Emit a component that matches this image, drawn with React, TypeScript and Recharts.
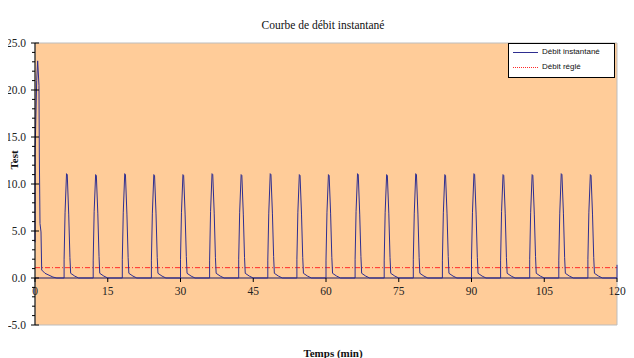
import React from 'react';
import { LineChart, Line, XAxis, YAxis, CartesianGrid, ReferenceLine, ReferenceArea } from 'recharts';

// temps (min) et débit
const timeMin = [
  0, 0.02, 0.35, 0.55, 0.82, 0.89, 1.03, 1.24, 1.38, 2.06, 3.7, 4.5,
  6, 6, 6.2, 6.5, 6.65, 6.95, 7.2, 7.35, 8.2, 9,
  12, 12, 12.2, 12.5, 12.65, 12.95, 13.2, 13.35, 14.2, 15,
  18, 18, 18.2, 18.5, 18.65, 18.95, 19.2, 19.35, 20.2, 21,
  24, 24, 24.2, 24.5, 24.65, 24.95, 25.2, 25.35, 26.2, 27,
  30, 30, 30.2, 30.5, 30.65, 30.95, 31.2, 31.35, 32.2, 33,
  36, 36, 36.2, 36.5, 36.65, 36.95, 37.2, 37.35, 38.2, 39,
  42, 42, 42.2, 42.5, 42.65, 42.95, 43.2, 43.35, 44.2, 45,
  48, 48, 48.2, 48.5, 48.65, 48.95, 49.2, 49.35, 50.2, 51,
  54, 54, 54.2, 54.5, 54.65, 54.95, 55.2, 55.35, 56.2, 57,
  60, 60, 60.2, 60.5, 60.65, 60.95, 61.2, 61.35, 62.2, 63,
  66, 66, 66.2, 66.5, 66.65, 66.95, 67.2, 67.35, 68.2, 69,
  72, 72, 72.2, 72.5, 72.65, 72.95, 73.2, 73.35, 74.2, 75,
  78, 78, 78.2, 78.5, 78.65, 78.95, 79.2, 79.35, 80.2, 81,
  84, 84, 84.2, 84.5, 84.65, 84.95, 85.2, 85.35, 86.2, 87,
  90, 90, 90.2, 90.5, 90.65, 90.95, 91.2, 91.35, 92.2, 93,
  96, 96, 96.2, 96.5, 96.65, 96.95, 97.2, 97.35, 98.2, 99,
  102, 102, 102.2, 102.5, 102.65, 102.95, 103.2, 103.35, 104.2, 105,
  108, 108, 108.2, 108.5, 108.65, 108.95, 109.2, 109.35, 110.2, 111,
  114, 114, 114.2, 114.5, 114.65, 114.95, 115.2, 115.35, 116.2, 117,
  120, 120,
];

const debitInstant = [
  3.8, 13.4, 21.0, 23.1, 20.5, 13.3, 5.8, 4.9, 0.85, 0.5, 0.1, 0,
  0, 2.0, 7.0, 11.1, 11.0, 6.8, 2.2, 0.5, 0.2, 0,
  0, 1.9, 7.1, 11.0, 10.9, 6.9, 2.3, 0.5, 0.2, 0,
  0, 2.0, 7.0, 11.1, 11.0, 6.8, 2.2, 0.5, 0.2, 0,
  0, 1.9, 6.9, 11.0, 10.9, 6.9, 2.2, 0.5, 0.2, 0,
  0, 2.0, 7.0, 11.0, 10.9, 6.8, 2.3, 0.5, 0.2, 0,
  0, 1.9, 7.1, 11.1, 11.0, 6.9, 2.2, 0.5, 0.2, 0,
  0, 2.0, 7.0, 11.0, 10.9, 6.8, 2.2, 0.5, 0.2, 0,
  0, 1.9, 6.9, 11.1, 11.0, 6.9, 2.3, 0.5, 0.2, 0,
  0, 2.0, 7.0, 11.0, 10.9, 6.8, 2.2, 0.5, 0.2, 0,
  0, 1.9, 7.0, 11.0, 10.9, 6.9, 2.2, 0.5, 0.2, 0,
  0, 2.0, 7.1, 11.1, 11.0, 6.8, 2.3, 0.5, 0.2, 0,
  0, 1.9, 7.0, 11.0, 10.9, 6.9, 2.2, 0.5, 0.2, 0,
  0, 2.0, 6.9, 11.1, 11.0, 6.8, 2.2, 0.5, 0.2, 0,
  0, 1.9, 7.0, 11.0, 10.9, 6.9, 2.3, 0.5, 0.2, 0,
  0, 2.0, 7.0, 11.1, 11.0, 6.8, 2.2, 0.5, 0.2, 0,
  0, 1.9, 7.1, 11.0, 10.9, 6.9, 2.2, 0.5, 0.2, 0,
  0, 2.0, 7.0, 11.0, 10.9, 6.8, 2.3, 0.5, 0.2, 0,
  0, 1.9, 6.9, 11.1, 11.0, 6.9, 2.2, 0.5, 0.2, 0,
  0, 2.0, 7.0, 11.0, 10.9, 6.8, 2.2, 0.5, 0.2, 0,
  0, 1.4,
];

const DEBIT_REGLE = 1.1;
const xTicks = [0, 15, 30, 45, 60, 75, 90, 105, 120];
const yTicks = [-5, -4, -3, -2, -1, 0, 1, 2, 3, 4, 5, 6, 7, 8, 9, 10, 11, 12, 13, 14, 15, 16, 17, 18, 19, 20, 21, 22, 23, 24, 25];

const data = timeMin.map((t, i) => ({ t, debit: debitInstant[i] }));

const CHART_W = 634;
const CHART_H = 350;
const PLOT_LEFT = 35;
const PLOT_TOP = 35;
const PLOT_H = 282;
const ZERO_Y = PLOT_TOP + (PLOT_H * 25) / 30;

const serif = '"Liberation Serif", "Times New Roman", serif';
const sans = '"Liberation Sans", Arial, sans-serif';

const XTick = (props: any) => {
  const { x, payload } = props;
  return (
    <g>
      <line x1={x} x2={x} y1={ZERO_Y} y2={ZERO_Y + 4} stroke="#000" />
      <text x={x} y={ZERO_Y + 17} textAnchor="middle" fontFamily={serif} fontSize={11.5} fill="#222">
        {payload.value}
      </text>
    </g>
  );
};

const YTick = (props: any) => {
  const { y, payload } = props;
  const major = payload.value % 5 === 0;
  return (
    <g>
      <line x1={PLOT_LEFT - (major ? 4 : 3)} x2={PLOT_LEFT + (major ? 4 : 0)} y1={y} y2={y} stroke="#000" />
      {major && (
        <text x={PLOT_LEFT - 9} y={y + 4} textAnchor="end" fontFamily={serif} fontSize={11.5} fill="#222">
          {payload.value.toFixed(1)}
        </text>
      )}
    </g>
  );
};

export default function App() {
  return (
    <div style={{ position: 'relative', marginLeft: -1, marginTop: -1, width: 630, height: 360, border: '1px solid #404040', background: '#fff' }}>
      <style>{'body{overflow:hidden}'}</style>
      <div style={{ position: 'absolute', left: 0, width: 630, top: 11, textAlign: 'center', fontFamily: serif, fontSize: 11.5, color: '#111' }}>
        Courbe de débit instantané
      </div>
      <div style={{ position: 'absolute', left: -8, top: 0 }}>
        <LineChart width={CHART_W} height={CHART_H} data={data} margin={{ top: PLOT_TOP, right: 17, bottom: 0, left: 0 }}>
          <CartesianGrid fill="#FFCC99" horizontal={false} vertical={false} />
          <ReferenceArea x1={0} x2={120} y1={-5} y2={25} fill="none" fillOpacity={0} stroke="#bdbdbd" />
          <XAxis
            dataKey="t"
            type="number"
            domain={[0, 120]}
            ticks={xTicks}
            interval={0}
            height={33}
            axisLine={false}
            tickLine={false}
            tick={<XTick />}
          />
          <YAxis
            type="number"
            domain={[-5, 25]}
            ticks={yTicks}
            interval={0}
            width={35}
            tickLine={false}
            axisLine={{ stroke: '#000' }}
            tick={<YTick />}
          />
          <ReferenceLine y={DEBIT_REGLE} stroke="#ff2a2a" strokeDasharray="5 2 1 2" />
          <ReferenceLine y={0} stroke="#1a1a66" />
          <Line type="linear" dataKey="debit" stroke="#2e2e90" strokeWidth={1} dot={false} isAnimationActive={false} />
        </LineChart>
      </div>
      <div style={{ position: 'absolute', left: 500, top: 35, width: 105, height: 33, background: '#fff', border: '1px solid #000', fontFamily: sans, fontSize: 8, color: '#111' }}>
        <div style={{ position: 'absolute', left: 4, top: 8, width: 25, borderTop: '1px solid #2e2e90' }} />
        <div style={{ position: 'absolute', left: 33, top: 3 }}>Débit instantané</div>
        <div style={{ position: 'absolute', left: 4, top: 23, width: 25, borderTop: '1px dotted #ff2a2a' }} />
        <div style={{ position: 'absolute', left: 33, top: 18 }}>Débit réglé</div>
      </div>
      <div style={{ position: 'absolute', left: 6, top: 152, transform: 'translate(-50%, -50%) rotate(-90deg)', fontFamily: serif, fontSize: 11, fontWeight: 'bold', color: '#111' }}>
        Test
      </div>
      <div style={{ position: 'absolute', left: 325, top: 339, transform: 'translateX(-50%)', fontFamily: serif, fontSize: 11, fontWeight: 'bold', color: '#111', whiteSpace: 'nowrap' }}>
        Temps (min)
      </div>
    </div>
  );
}
